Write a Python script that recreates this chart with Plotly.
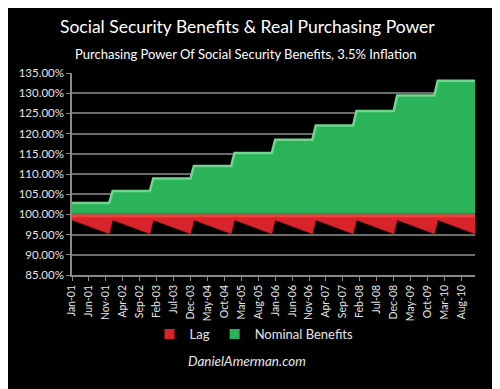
import plotly.graph_objects as go

# ---- data ----
years = [2001, 2002, 2003, 2004, 2005, 2006, 2007, 2008, 2009, 2010]
nominal_level = [102.8, 105.8, 108.9, 112.0, 115.2, 118.5, 122.0, 125.6, 129.4, 133.1]
lag_jan = [98.6, 98.6, 98.6, 98.6, 98.6, 98.6, 98.6, 98.6, 98.6, 98.6]
lag_dec = [95.2, 95.2, 95.2, 95.2, 95.2, 95.2, 95.2, 95.2, 95.2, 95.2]
tick_labels = ["Jan-01", "Jun-01", "Nov-01", "Apr-02", "Sep-02", "Feb-03", "Jul-03",
               "Dec-03", "May-04", "Oct-04", "Mar-05", "Aug-05", "Jan-06", "Jun-06",
               "Nov-06", "Apr-07", "Sep-07", "Feb-08", "Jul-08", "Dec-08", "May-09",
               "Oct-09", "Mar-10", "Aug-10"]
baseline = 100.0

# month index: Jan of first year = 0
xs, g_y, r_y = [], [], []
for i, yr in enumerate(years):
    m0 = (yr - years[0]) * 12
    xs += [m0, m0 + 11]
    g_y += [nominal_level[i], nominal_level[i]]
    r_y += [lag_jan[i], lag_dec[i]]
x_end = xs[-1]
tick_pos = [5 * i for i in range(len(tick_labels))]

GREEN = "#2bb35a"
GREEN_HI = "#72d48f"
RED = "#d9232a"
RED_HI = "#f2403f"
GRID = "#6b6b6b"
TXT = "#e6e6e6"

# page offset (body margin) compensation
OFF = 8
W, H = 500 - OFF, 389 - OFF
L, R, T, B = 72 - OFF, 25, 73 - OFF, 114
PW, PH = W - L - R, H - T - B


def px_x(x):
    return (x - OFF - L) / PW


def px_y(y):
    return (H - B - (y - OFF)) / PH


fig = go.Figure()
# green area (nominal benefits) filled to 100%
fig.add_trace(go.Scatter(x=[0, x_end], y=[baseline, baseline], mode="lines",
                         line=dict(width=0), showlegend=False, hoverinfo="skip"))
fig.add_trace(go.Scatter(x=xs, y=g_y, mode="lines", fill="tonexty", fillcolor=GREEN,
                         line=dict(color=GREEN_HI, width=2.5), showlegend=False))
# red area (lag) filled to 100%
fig.add_trace(go.Scatter(x=[0, x_end], y=[baseline, baseline], mode="lines",
                         line=dict(width=0), showlegend=False, hoverinfo="skip"))
fig.add_trace(go.Scatter(x=xs, y=r_y, mode="lines", fill="tonexty", fillcolor=RED,
                         line=dict(color=RED, width=0.5), showlegend=False))
# highlight band along the 100% line on the red
fig.add_trace(go.Scatter(x=[0, x_end], y=[baseline - 0.35, baseline - 0.35], mode="lines",
                         line=dict(color=RED_HI, width=3), showlegend=False, hoverinfo="skip"))
# dark edge of green at baseline
fig.add_trace(go.Scatter(x=[0, x_end], y=[baseline + 0.2, baseline + 0.2], mode="lines",
                         line=dict(color="#1f9a48", width=1.5), showlegend=False, hoverinfo="skip"))

# legend entries
fig.add_trace(go.Scatter(x=[None], y=[None], mode="markers", name="Lag",
                         marker=dict(symbol="square", size=10, color=RED)))
fig.add_trace(go.Scatter(x=[None], y=[None], mode="markers", name="Nominal Benefits",
                         marker=dict(symbol="square", size=10, color=GREEN)))

fig.update_layout(
    width=W, height=H,
    paper_bgcolor="black", plot_bgcolor="black",
    margin=dict(l=L, r=R, t=T, b=B, autoexpand=False),
    font=dict(family="Lato, Open Sans, sans-serif", color=TXT, size=11),
    showlegend=True,
    legend=dict(orientation="h", traceorder="normal",
                x=px_x(254), xanchor="center", y=px_y(334), yanchor="middle",
                font=dict(size=13, color=TXT), bgcolor="rgba(0,0,0,0)",
                itemwidth=30, tracegroupgap=0),
    xaxis=dict(range=[0, x_end], tickmode="array", tickvals=tick_pos, ticktext=tick_labels,
               tickangle=-90, showgrid=False, zeroline=False, automargin=False,
               showline=True, linecolor="#8a8a8a", linewidth=1.5,
               ticks="outside", ticklen=4, tickcolor="#8a8a8a",
               tickfont=dict(size=10.5, color=TXT)),
    yaxis=dict(range=[85, 135], dtick=5, tick0=85, tickformat=".2f", ticksuffix="%",
               showgrid=True, gridcolor=GRID, gridwidth=1.5, zeroline=False, automargin=False,
               showline=True, linecolor="#8a8a8a", linewidth=1.5,
               ticks="outside", ticklen=4, tickcolor="#8a8a8a",
               tickfont=dict(size=11.5, color=TXT)),
    annotations=[
        dict(text="Social Security Benefits & Real Purchasing Power", xref="paper", yref="paper",
             x=px_x(247), y=px_y(26), xanchor="center", yanchor="middle",
             showarrow=False, font=dict(size=17.5, color="white")),
        dict(text="Purchasing Power Of Social Security Benefits, 3.5% Inflation", xref="paper", yref="paper",
             x=px_x(246), y=px_y(54), xanchor="center", yanchor="middle",
             showarrow=False, font=dict(size=13, color="white")),
        dict(text="<i>DanielAmerman.com</i>", xref="paper", yref="paper",
             x=px_x(247), y=px_y(361), xanchor="center", yanchor="middle",
             showarrow=False, font=dict(size=13.5, color=TXT)),
    ],
)

fig.write_html("out.html")
